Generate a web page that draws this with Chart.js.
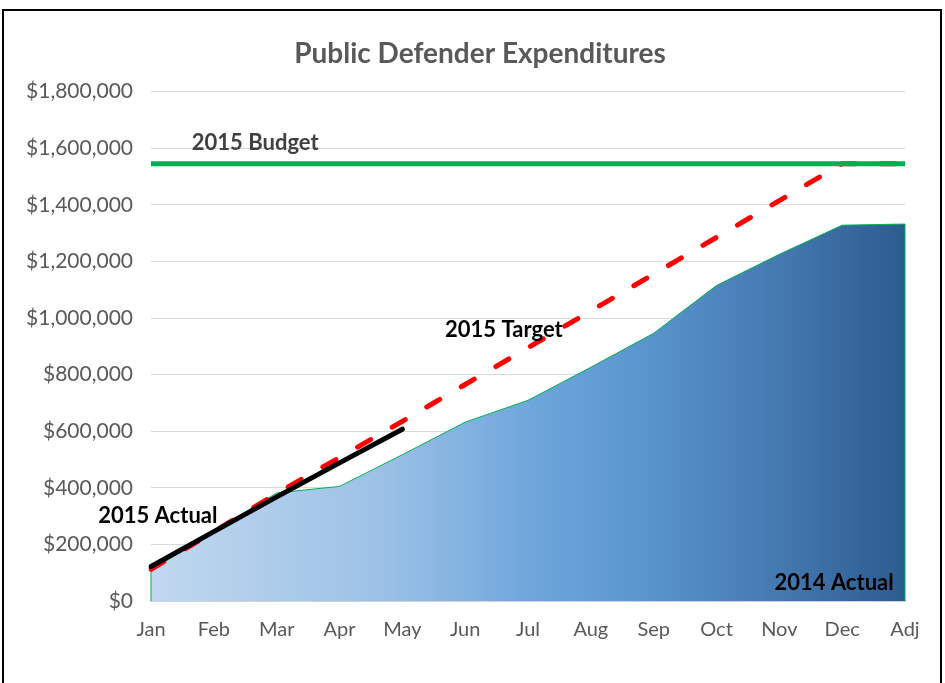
<!DOCTYPE html>
<html>
<head>
<meta charset="utf-8">
<script src="https://cdn.jsdelivr.net/npm/chart.js@4/dist/chart.umd.min.js"></script>
<style>
  html, body { margin: 0; padding: 0; background: #fff; }
  #wrap { position: relative; width: 945px; height: 683px; }
  #frame { position: absolute; left: 2px; top: 9px; width: 936px; height: 700px; border: 2px solid #000; pointer-events: none; }
  canvas { position: absolute; left: 0; top: 0; }
</style>
</head>
<body>
<div id="wrap">
  <canvas id="c" width="945" height="683"></canvas>
  <div id="frame"></div>
</div>
<script>
const months = ['Jan','Feb','Mar','Apr','May','Jun','Jul','Aug','Sep','Oct','Nov','Dec','Adj'];
const actual2014 = [110000, 245000, 382000, 405000, 517000, 632000, 709000, 826000, 946000, 1115000, 1225000, 1328000, 1332000];
const target2015 = [112000, 245000, 380000, 507000, 635000, 765000, 895000, 1025000, 1155000, 1285000, 1415000, 1545000, 1545000];
const actual2015 = [122000, 245000, 368000, 488000, 607000, null, null, null, null, null, null, null, null];
const budget2015 = [1545000, 1545000, 1545000, 1545000, 1545000, 1545000, 1545000, 1545000, 1545000, 1545000, 1545000, 1545000, 1545000];
const yTicks = [0, 200000, 400000, 600000, 800000, 1000000, 1200000, 1400000, 1600000, 1800000];
const chartTitle = 'Public Defender Expenditures';
// text labels anchored in data units
const labelTexts = ['2015 Budget', '2015 Target', '2015 Actual', '2014 Actual'];
const labelX = [0.65, 4.68, -0.84, 11.82];
const labelY = [1592000, 933000, 275000, 39000];
const labelAlign = ['left', 'left', 'left', 'right'];
const labelColor = ['#404040', '#000000', '#000000', '#000000'];

const FONT = 'Lato, "Open Sans", sans-serif';

function areaGradient(ctx) {
  const ch = ctx.chart;
  const a = ch.chartArea;
  if (!a) return '#5B9BD5';
  const g = ch.ctx.createLinearGradient(a.left, 0, a.right, 0);
  g.addColorStop(0, '#C0D8EF');
  g.addColorStop(0.3, '#9DC2E6');
  g.addColorStop(0.5, '#6FA7DC');
  g.addColorStop(0.65, '#5B96CF');
  g.addColorStop(0.85, '#4276AD');
  g.addColorStop(1, '#2C5B8F');
  return g;
}

const edgePlugin = {
  id: 'edges',
  afterDatasetDraw(chart, args) {
    if (args.index !== 3) return;
    const meta = chart.getDatasetMeta(3);
    const y0 = chart.scales.y.getPixelForValue(0);
    const ctx = chart.ctx;
    ctx.save();
    ctx.strokeStyle = '#00B050';
    ctx.lineWidth = 1;
    const pts = [meta.data[0], meta.data[meta.data.length - 1]];
    pts.forEach(p => {
      ctx.beginPath();
      ctx.moveTo(p.x, y0);
      ctx.lineTo(p.x, p.y);
      ctx.stroke();
    });
    ctx.restore();
  }
};

const labelPlugin = {
  id: 'textLabels',
  afterDatasetsDraw(chart) {
    const ctx = chart.ctx;
    const xs = chart.scales.x, ys = chart.scales.y;
    ctx.save();
    ctx.font = 'bold 22px ' + FONT;
    ctx.textBaseline = 'alphabetic';
    labelTexts.forEach((t, i) => {
      const px = xs.left + (xs.right - xs.left) * labelX[i] / (months.length - 1);
      const py = ys.getPixelForValue(labelY[i]);
      ctx.textAlign = labelAlign[i];
      ctx.fillStyle = labelColor[i];
      ctx.fillText(t, px, py);
    });
    ctx.restore();
  }
};

new Chart(document.getElementById('c'), {
  type: 'line',
  data: {
    labels: months,
    datasets: [
      { label: '2015 Budget', data: budget2015, borderColor: '#00B050', borderWidth: 5, pointRadius: 0, fill: false, order: 0 },
      { label: '2015 Actual', data: actual2015, borderColor: '#000000', borderWidth: 5, pointRadius: 0, fill: false, borderCapStyle: 'round', order: 1 },
      { label: '2015 Target', data: target2015, borderColor: '#FF0000', borderWidth: 5, borderDash: [15, 25], borderCapStyle: 'round', pointRadius: 0, fill: false, order: 2 },
      { label: '2014 Actual', data: actual2014, borderColor: '#00B050', borderWidth: 1, pointRadius: 0, fill: 'origin', backgroundColor: areaGradient, order: 3 }
    ]
  },
  options: {
    responsive: false,
    animation: false,
    layout: { padding: { left: 15, right: 0, top: 0, bottom: 0 } },
    plugins: {
      legend: { display: false },
      tooltip: { enabled: false },
      title: {
        display: true,
        text: chartTitle,
        color: '#595959',
        font: { family: FONT, size: 28, weight: 'bold' },
        padding: { top: 37, bottom: 21 }
      }
    },
    scales: {
      x: {
        offset: false,
        grid: { display: false, drawTicks: false },
        border: { display: true, color: '#D0D0D0', width: 2 },
        ticks: { color: '#595959', font: { family: FONT, size: 20 }, padding: 17, maxRotation: 0, autoSkip: false },
        afterFit(s) { s.height = 82; }
      },
      y: {
        min: 0, max: 1800000,
        afterBuildTicks(s) { s.ticks = yTicks.map(v => ({ value: v })); },
        grid: { color: '#D9D9D9', lineWidth: 1, drawTicks: false },
        border: { display: false },
        ticks: {
          color: '#595959', font: { family: FONT, size: 21 }, padding: 18,
          callback: v => '$' + Number(v).toLocaleString('en-US')
        },
        afterFit(s) { s.width = 136; }
      },
      yRight: {
        position: 'right',
        display: true,
        grid: { display: false, drawTicks: false },
        border: { display: false },
        ticks: { display: false },
        afterFit(s) { s.width = 40; }
      }
    }
  },
  plugins: [edgePlugin, labelPlugin]
});
</script>
</body>
</html>
